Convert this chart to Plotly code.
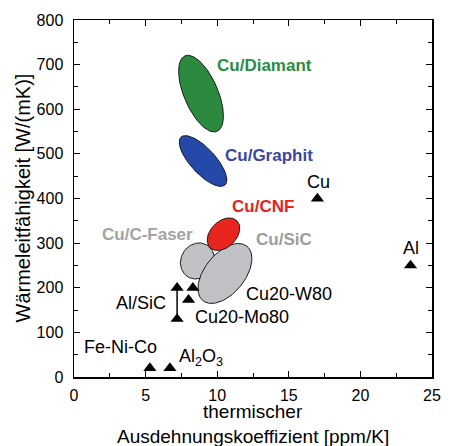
import numpy as np
import plotly.graph_objects as go

# ---------------- data ----------------
# material regions (ellipses): centre CTE [ppm/K], centre conductivity [W/(mK)]
region_names = ["Cu/C-Faser", "Cu/SiC", "Cu/Diamant", "Cu/Graphit", "Cu/CNF"]
region_cte = [8.62, 10.54, 8.87, 9.01, 10.44]
region_k = [260, 232, 635, 484, 320]

# single materials (triangles)
point_names = ["Cu", "Al", "Fe-Ni-Co", "Al2O3", "Al/SiC", "Al/SiC", "Cu20-W80", "Cu20-Mo80"]
point_cte = [17.0, 23.5, 5.3, 6.7, 7.2, 7.2, 8.3, 8.0]
point_k = [400, 250, 20, 20, 200, 130, 200, 173]

x_ticks = [0, 5, 10, 15, 20, 25]
y_ticks = [0, 100, 200, 300, 400, 500, 600, 700, 800]

# ---------------- styling / geometry ----------------
W, H = 452, 446
ML, MT, MR, MB = 74, 20, 20, 69
XR = [0, 25]
YR = [0, 800]
PH = H - MT - MB
PW = W - ML - MR
sx = PW / (XR[1] - XR[0])
sy = PH / (YR[1] - YR[0])

# ellipse shape (semi-axes in px, angle deg), fill colours
ell_shape = {
    "Cu/C-Faser": (18.5, 16.5, 60),
    "Cu/SiC": (35, 20, 51),
    "Cu/Diamant": (41, 17, 113),
    "Cu/Graphit": (32.5, 12.5, 132.5),
    "Cu/CNF": (19, 13, 45),
}
ell_fill = {
    "Cu/C-Faser": "#c0c2c5",
    "Cu/SiC": "#bfc1c4",
    "Cu/Diamant": "#2b8a3e",
    "Cu/Graphit": "#2449a8",
    "Cu/CNF": "#e8251e",
}

FONT = "Arial, Liberation Sans, Helvetica, sans-serif"

fig = go.Figure()

t = np.linspace(0, 2 * np.pi, 120)
for name, cx, cy in zip(region_names, region_cte, region_k):
    a, b, ang = ell_shape[name]
    th = np.deg2rad(ang)
    dx = a * np.cos(t) * np.cos(th) - b * np.sin(t) * np.sin(th)
    dy = a * np.cos(t) * np.sin(th) + b * np.sin(t) * np.cos(th)
    fig.add_trace(go.Scatter(
        x=cx + dx / sx, y=cy + dy / sy, mode="lines", fill="toself",
        fillcolor=ell_fill[name], line=dict(color="#1a1a1a", width=1),
        hoverinfo="skip", showlegend=False))

# Al/SiC range line
alsic = [i for i, n in enumerate(point_names) if n == "Al/SiC"]
fig.add_trace(go.Scatter(
    x=[point_cte[i] for i in alsic], y=[point_k[i] for i in alsic],
    mode="lines", line=dict(color="black", width=1.5),
    hoverinfo="skip", showlegend=False))

fig.add_trace(go.Scatter(
    x=point_cte, y=point_k, mode="markers",
    marker=dict(symbol="triangle-up", size=11.5, color="black"),
    text=point_names, showlegend=False))

# labels: (text, x, y, colour, bold)
labels = [
    ("Cu/Diamant", 13.3, 697, "#2a8c3f", True),
    ("Cu/Graphit", 13.65, 497, "#3b47a0", True),
    ("Cu/CNF", 13.2, 381, "#e8221b", True),
    ("Cu/C-Faser", 5.13, 320, "#a3a3a3", True),
    ("Cu/SiC", 14.63, 309, "#9c9c9c", True),
    ("Cu", 17.04, 437, "black", False),
    ("Al", 23.53, 289, "black", False),
    ("Cu20-W80", 15.01, 186, "black", False),
    ("Cu20-Mo80", 11.70, 134, "black", False),
    ("Al/SiC", 4.68, 166, "black", False),
    ("Fe-Ni-Co", 3.25, 67, "black", False),
    ("Al<sub>2</sub>O<sub>3</sub>", 8.9, 44, "black", False),
]
for txt, x, y, col, bold in labels:
    fig.add_annotation(
        x=x, y=y, xref="x", yref="y", showarrow=False,
        text=f"<b>{txt}</b>" if bold else txt,
        font=dict(family=FONT, size=17 if bold else 18, color=col),
        xanchor="center", yanchor="middle")

# axis titles (positions given in page pixels, converted to paper coords)
def paper_x(px):
    return (px - ML) / PW

def paper_y(py):
    return (H - MB - py) / PH

fig.add_annotation(x=paper_x(22), y=0.5, xref="paper", yref="paper", showarrow=False,
                   text="Wärmeleitfähigkeit [W/(mK)]", textangle=-90,
                   font=dict(family=FONT, size=20, color="black"),
                   xanchor="center", yanchor="middle")
fig.add_annotation(x=0.5, y=paper_y(411), xref="paper", yref="paper",
                   showarrow=False, text="thermischer",
                   font=dict(family=FONT, size=19, color="black"),
                   xanchor="center", yanchor="middle")
fig.add_annotation(x=0.5, y=paper_y(436), xref="paper", yref="paper",
                   showarrow=False, text="Ausdehnungskoeffizient [ppm/K]",
                   font=dict(family=FONT, size=19, color="black"),
                   xanchor="center", yanchor="middle")

axis_common = dict(
    showline=True, linecolor="black", linewidth=1.5, mirror="ticks",
    ticks="inside", ticklen=6, tickwidth=1.2, tickcolor="black",
    showgrid=False, zeroline=False, automargin=False,
    tickfont=dict(family=FONT, size=16, color="black"),
)
fig.update_xaxes(range=XR, tickvals=x_ticks, ticklabelstandoff=3,
                 minor=dict(dtick=2.5, ticks="inside", ticklen=4, tickcolor="black", tickwidth=1),
                 **axis_common)
fig.update_yaxes(range=YR, tickvals=y_ticks, ticklabelstandoff=6,
                 minor=dict(dtick=50, ticks="inside", ticklen=4, tickcolor="black", tickwidth=1),
                 **axis_common)

fig.update_layout(
    width=W, height=H,
    margin=dict(l=ML, r=MR, t=MT, b=MB, pad=0),
    paper_bgcolor="white", plot_bgcolor="white",
    showlegend=False, hovermode=False,
    font=dict(family=FONT, color="black"),
)

page_fix = (
    "document.documentElement.style.overflow='hidden';"
    "document.body.style.margin='0';document.body.style.overflow='hidden';"
    "var gd=document.getElementById('{plot_id}');"
    "gd.style.position='absolute';gd.style.left='0px';gd.style.top='0px';"
)
fig.write_html("out.html", post_script=page_fix,
               config={"displayModeBar": False, "staticPlot": True})
